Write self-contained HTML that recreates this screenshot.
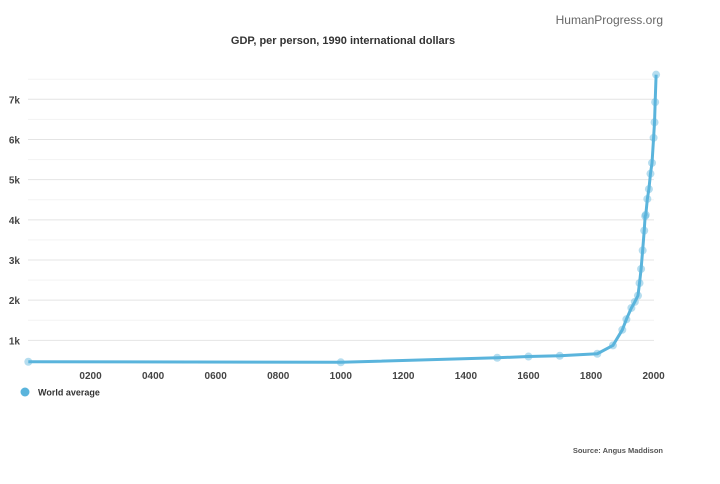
<!DOCTYPE html>
<html><head><meta charset="utf-8"><style>
body{margin:0;background:#fff;font-family:"Liberation Sans",sans-serif}
</style></head><body>
<svg id="c" width="720" height="479" xmlns="http://www.w3.org/2000/svg">
<text x="663" y="24" text-anchor="end" font-size="12" fill="#666">HumanProgress.org</text>
<text x="343" y="44" text-anchor="middle" font-size="11" font-weight="bold" fill="#333">GDP, per person, 1990 international dollars</text>
<g id="grid"></g><g id="ylab"></g><g id="xlab"></g><g id="series"></g>
<circle cx="25" cy="392" r="4.5" fill="#5ab4dc"/>
<text x="38" y="395.5" font-size="9" font-weight="bold" fill="#333">World average</text>
<text x="663" y="453" text-anchor="end" font-size="7.5" font-weight="bold" fill="#555">Source: Angus Maddison</text>
</svg>
<script>
const years=[1,1000,1500,1600,1700,1820,1870,1900,1913,1929,1940,1950,1955,1960,1965,1970,1973,1975,1980,1985,1990,1995,2000,2003,2005,2008];
const gdp=[467,453,566,596,615,666,873,1262,1524,1806,1958,2113,2425,2777,3238,3731,4091,4124,4519,4764,5149,5417,6041,6429,6930,7614];
const yTicks=[1000,2000,3000,4000,5000,6000,7000];
const yTickLabels=["1k","2k","3k","4k","5k","6k","7k"];
const xTicks=[200,400,600,800,1000,1200,1400,1600,1800,2000];
const xTickLabels=["0200","0400","0600","0800","1000","1200","1400","1600","1800","2000"];
const X=v=>28+v*0.3128, Y=v=>380.5-v*0.04017;
const ns="http://www.w3.org/2000/svg";
function mk(t,a,p){const e=document.createElementNS(ns,t);for(const k in a)e.setAttribute(k,a[k]);document.getElementById(p).appendChild(e);return e;}
for(let v=1000;v<=7500;v+=500){const l=mk('line',{x1:28,x2:654,y1:Y(v),y2:Y(v),stroke:v%1000?'#f3f3f3':'#e4e4e4','stroke-width':1},'grid');

}
yTicks.forEach((v,i)=>{const t=mk('text',{x:20,y:Y(v)+4,'text-anchor':'end','font-size':10,'font-weight':'bold',fill:'#444'},'ylab');t.textContent=yTickLabels[i];

});
xTicks.forEach((v,i)=>{const t=mk('text',{x:X(v),y:379,'text-anchor':'middle','font-size':10,'font-weight':'bold',fill:'#444'},'xlab');t.textContent=xTickLabels[i];

});
const p=mk('polyline',{points:years.map((y,i)=>X(y)+','+Y(gdp[i])).join(' '),fill:'none',stroke:'#5ab4dc','stroke-width':3,'stroke-linejoin':'round'},'series');


years.forEach((y,i)=>{const c=mk('circle',{cx:X(y),cy:Y(gdp[i]),r:4,fill:'#5ab4dc','fill-opacity':0.45},'series');

});
</script>
</body></html>
